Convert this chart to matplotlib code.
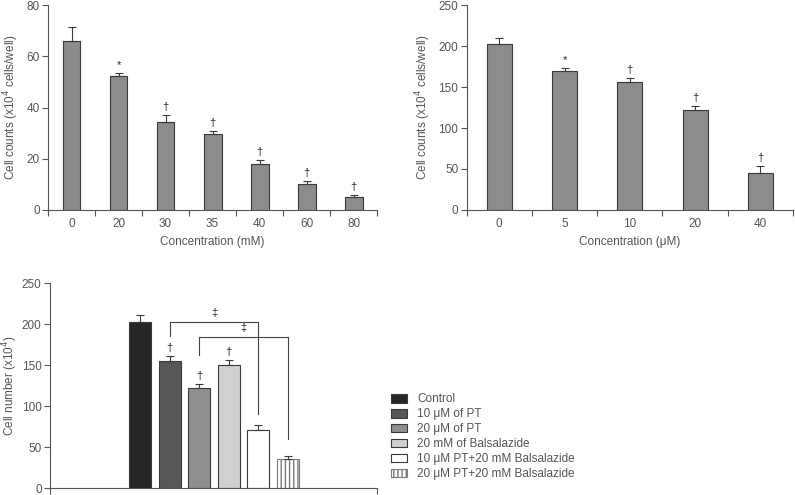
import numpy as np
import matplotlib.pyplot as plt

plt.rcParams['font.family'] = ['Liberation Sans', 'DejaVu Sans']
plt.rcParams['font.size'] = 8.5
TXT = '#555555'
plt.rcParams['text.color'] = TXT
plt.rcParams['axes.labelcolor'] = TXT
plt.rcParams['xtick.color'] = TXT
plt.rcParams['ytick.color'] = TXT
plt.rcParams['axes.edgecolor'] = '#555555'
plt.rcParams['hatch.color'] = '#7a7a7a'

# Panel A: balsalazide concentration (mM)
conc_a = ['0', '20', '30', '35', '40', '60', '80']
count_a = [66, 52.3, 34.3, 29.7, 18, 10.3, 5]
err_a = [5.5, 1, 2.8, 1, 1.5, 1.1, 1]
mark_a = ['', '*', '\u2020', '\u2020', '\u2020', '\u2020', '\u2020']

# Panel B: PT concentration (uM)
conc_b = ['0', '5', '10', '20', '40']
count_b = [202, 169, 156, 122, 45]
err_b = [8, 4.5, 5.5, 4.5, 8.5]
mark_b = ['', '*', '\u2020', '\u2020', '\u2020']

# Panel C: combinations
groups = ['Control', '10 \u03bcM of PT', '20 \u03bcM of PT', '20 mM of Balsalazide',
          '10 \u03bcM PT+20 mM Balsalazide', '20 \u03bcM PT+20 mM Balsalazide']
count_c = [202, 155, 122, 150, 71, 35]
err_c = [9, 6, 4.5, 6, 5.5, 3.5]
mark_c = ['', '\u2020', '\u2020', '\u2020', '', '']
colors_c = ['#262626', '#575757', '#8e8e8e', '#d0d0d0', 'white', 'white']
hatch_c = ['', '', '', '', '', '||||']

fig = plt.figure(figsize=(7.95, 4.95), dpi=100)


def style(ax):
    for s in ['top', 'right']:
        ax.spines[s].set_visible(False)
    ax.tick_params(length=4, width=0.8, pad=2)


def panel(ax, labels, vals, errs, marks, ymax, ystep, xlabel, ylabel, fs):
    n = len(vals)
    x = np.arange(n)
    ax.bar(x, vals, width=0.38, color='#8c8c8c', edgecolor='#3a3a3a', linewidth=0.8)
    ax.errorbar(x, vals, yerr=[np.zeros(n), errs], fmt='none', ecolor='#3a3a3a',
                elinewidth=0.8, capsize=3, capthick=0.8)
    for xi, v, e, m in zip(x, vals, errs, marks):
        if m:
            ax.text(xi, v + e + ymax * 0.015, m, ha='center', va='bottom', fontsize=fs,
                    color='#222222')
    ax.set_xlim(-0.5, n - 0.5)
    ax.set_ylim(0, ymax)
    ax.set_yticks(np.arange(0, ymax + 1, ystep))
    ax.set_xticks(np.arange(-0.5, n, 1.0))
    ax.set_xticklabels([])
    ax.set_xticks(x, minor=True)
    ax.set_xticklabels(labels, minor=True)
    ax.tick_params(axis='x', which='minor', length=0, pad=6)
    ax.set_xlabel(xlabel, labelpad=4)
    ax.set_ylabel(ylabel, labelpad=4)
    style(ax)


ax1 = fig.add_axes([0.0604, 0.5758, 0.414, 0.414])
panel(ax1, conc_a, count_a, err_a, mark_a, 80, 20, 'Concentration (mM)',
      'Cell counts (x10$^4$ cells/well)', 8)

ax2 = fig.add_axes([0.587, 0.5758, 0.4105, 0.414])
panel(ax2, conc_b, count_b, err_b, mark_b, 250, 50, 'Concentration (\u03bcM)',
      'Cell counts (x10$^4$ cells/well)', 8)

ax3 = fig.add_axes([0.0629, 0.0141, 0.411, 0.414])
xc = np.arange(len(count_c))
bars = ax3.bar(xc, count_c, width=0.74, color=colors_c, edgecolor='#3a3a3a',
               linewidth=0.8)
for b, h in zip(bars, hatch_c):
    if h:
        b.set_hatch(h)
        b.set_edgecolor('#7a7a7a')
ax3.errorbar(xc, count_c, yerr=[np.zeros(len(xc)), err_c], fmt='none', ecolor='#3a3a3a',
             elinewidth=0.8, capsize=3, capthick=0.8)
for xi, v, e, m in zip(xc, count_c, err_c, mark_c):
    if m:
        ax3.text(xi, v + e + 4, m, ha='center', va='bottom', fontsize=8, color='#222222')

# significance brackets
brackets = [(1, 4, 202, 186, 90), (2, 5, 184, 162, 60)]
for i0, i1, top, l_end, r_end in brackets:
    ax3.plot([i0, i0, i1, i1], [l_end, top, top, r_end], color='#444444', lw=0.8)
    ax3.text((i0 + i1) / 2, top + 5, '\u2021', ha='center', va='bottom', fontsize=8,
             color='#222222')

ax3.set_xlim(-3.04, 8.0)
ax3.set_ylim(0, 250)
ax3.set_yticks(np.arange(0, 251, 50))
ax3.set_xticks([-3.04, 8.0])
ax3.set_xticklabels([])
ax3.set_ylabel('Cell number (x10$^4$)', labelpad=1)
style(ax3)
ax3.legend(bars, groups, loc='upper left', bbox_to_anchor=(1.03, 0.485), frameon=False,
           handlelength=1.3, handleheight=0.75, handletextpad=0.9, labelspacing=0.25,
           fontsize=8.5, borderaxespad=0)

fig.savefig('out.png', dpi=100)
